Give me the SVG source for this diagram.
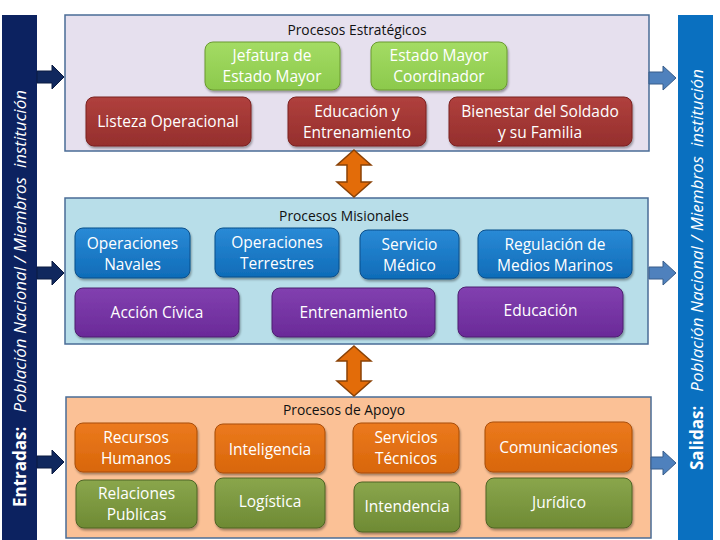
<svg xmlns="http://www.w3.org/2000/svg" width="720" height="540" viewBox="0 0 720 540">
<defs>
<style>
.t{font-family:"Open Sans","Liberation Sans",sans-serif;font-size:15.5px;fill:#ffffff;text-anchor:middle}
.h{font-family:"Open Sans","Liberation Sans",sans-serif;font-size:13.8px;fill:#111111;text-anchor:middle}
.side{font-family:"Open Sans","Liberation Sans",sans-serif;font-size:17px;fill:#ffffff}
.panel{stroke:#4a6c96;stroke-width:1.5}
.n{stroke-width:1;filter:url(#sh)}
.red{fill:url(#gRed);stroke:#7a2220}
.lg{fill:url(#gLg);stroke:#6a9a30}
.blue{fill:url(#gBlue);stroke:#0b4f8a}
.pur{fill:url(#gPur);stroke:#4c1f70}
.org{fill:url(#gOrg);stroke:#a84d08}
.grn{fill:url(#gGrn);stroke:#4e6424}
.inA{fill:#10285e;stroke:#0a1a40;stroke-width:1}
.outA{fill:#4f81bd;stroke:#385d8a;stroke-width:1}
.dA{fill:#e36c09;stroke:#8a4206;stroke-width:1.5}
</style>
<filter id="sh" x="-10%" y="-10%" width="125%" height="135%">
<feDropShadow dx="1" dy="2" stdDeviation="1.2" flood-color="#000" flood-opacity="0.35"/>
</filter>
<linearGradient id="gRed" x1="0" y1="0" x2="0" y2="1"><stop offset="0" stop-color="#b0403d"/><stop offset="1" stop-color="#952f2d"/></linearGradient>
<linearGradient id="gLg" x1="0" y1="0" x2="0" y2="1"><stop offset="0" stop-color="#a4dc64"/><stop offset="1" stop-color="#8cc94c"/></linearGradient>
<linearGradient id="gBlue" x1="0" y1="0" x2="0" y2="1"><stop offset="0" stop-color="#2a8ad6"/><stop offset="1" stop-color="#0f6cb8"/></linearGradient>
<linearGradient id="gPur" x1="0" y1="0" x2="0" y2="1"><stop offset="0" stop-color="#8240b0"/><stop offset="1" stop-color="#6a2a98"/></linearGradient>
<linearGradient id="gOrg" x1="0" y1="0" x2="0" y2="1"><stop offset="0" stop-color="#ec7a1e"/><stop offset="1" stop-color="#d8660a"/></linearGradient>
<linearGradient id="gGrn" x1="0" y1="0" x2="0" y2="1"><stop offset="0" stop-color="#8aa64c"/><stop offset="1" stop-color="#6e8a34"/></linearGradient>
</defs>
<rect width="720" height="540" fill="#ffffff"/>

<g id="entradas">
<rect x="2" y="15" width="35" height="530" fill="#0c2260"/>
<text class="side" transform="translate(26,507) rotate(-90)"><tspan font-weight="bold">Entradas:</tspan><tspan dx="14" font-style="italic">Población Nacional / Miembros</tspan><tspan dx="9" font-style="italic">institución</tspan></text>
</g>
<g id="salidas">
<rect x="678" y="15" width="35" height="530" fill="#0a70c0"/>
<text class="side" transform="translate(703,470) rotate(-90)"><tspan font-weight="bold">Salidas:</tspan><tspan dx="14" font-style="italic">Población Nacional / Miembros</tspan><tspan dx="9" font-style="italic">institución</tspan></text>
</g>

<g id="estrategicos">
<rect class="panel" x="65" y="15" width="584" height="136" fill="#e6e0ee"/>
<text class="h" x="357" y="35">Procesos Estratégicos</text>
</g>
<g id="misionales">
<rect class="panel" x="65" y="198" width="583" height="146" fill="#b8dee9"/>
<text class="h" x="344" y="221">Procesos Misionales</text>
</g>
<g id="apoyo">
<rect class="panel" x="66" y="397" width="585" height="141" fill="#fbc196"/>
<text class="h" x="344" y="415">Procesos de Apoyo</text>
</g>

<g id="n-jefatura"><rect class="n lg" x="205" y="42" width="135" height="48" rx="8"/><text class="t" x="272" y="61">Jefatura de</text><text class="t" x="272" y="82">Estado Mayor</text></g>
<g id="n-estado"><rect class="n lg" x="371" y="42" width="136" height="48" rx="8"/><text class="t" x="439" y="61">Estado Mayor</text><text class="t" x="439" y="82">Coordinador</text></g>
<g id="n-listeza"><rect class="n red" x="86" y="97" width="165" height="49" rx="8"/><text class="t" x="168" y="127">Listeza Operacional</text></g>
<g id="n-educent"><rect class="n red" x="288" y="97" width="138" height="49" rx="8"/><text class="t" x="357" y="117">Educación y</text><text class="t" x="357" y="138">Entrenamiento</text></g>
<g id="n-bienestar"><rect class="n red" x="449" y="97" width="183" height="49" rx="8"/><text class="t" x="540" y="117">Bienestar del Soldado</text><text class="t" x="540" y="138">y su Familia</text></g>

<g id="n-opnav"><rect class="n blue" x="75" y="228" width="115" height="50" rx="8"/><text class="t" x="132.5" y="249">Operaciones</text><text class="t" x="132.5" y="270">Navales</text></g>
<g id="n-opter"><rect class="n blue" x="215" y="228" width="124" height="49" rx="8"/><text class="t" x="277" y="248">Operaciones</text><text class="t" x="277" y="269">Terrestres</text></g>
<g id="n-servmed"><rect class="n blue" x="360" y="230" width="99" height="49" rx="8"/><text class="t" x="409.5" y="250">Servicio</text><text class="t" x="409.5" y="271">Médico</text></g>
<g id="n-regul"><rect class="n blue" x="478" y="230" width="154" height="48" rx="8"/><text class="t" x="555" y="250">Regulación de</text><text class="t" x="555" y="271">Medios Marinos</text></g>
<g id="n-accion"><rect class="n pur" x="75" y="288" width="164" height="49" rx="8"/><text class="t" x="157" y="318">Acción Cívica</text></g>
<g id="n-entren"><rect class="n pur" x="272" y="288" width="163" height="49" rx="8"/><text class="t" x="353.5" y="318">Entrenamiento</text></g>
<g id="n-educ"><rect class="n pur" x="458" y="287" width="165" height="50" rx="8"/><text class="t" x="540.5" y="316">Educación</text></g>

<g id="n-rrhh"><rect class="n org" x="75" y="423" width="122" height="49" rx="8"/><text class="t" x="136" y="443">Recursos</text><text class="t" x="136" y="464">Humanos</text></g>
<g id="n-intel"><rect class="n org" x="215" y="424" width="110" height="49" rx="8"/><text class="t" x="270" y="455">Inteligencia</text></g>
<g id="n-servtec"><rect class="n org" x="353" y="423" width="106" height="50" rx="8"/><text class="t" x="406" y="443">Servicios</text><text class="t" x="406" y="464">Técnicos</text></g>
<g id="n-comun"><rect class="n org" x="485" y="422" width="147" height="50" rx="8"/><text class="t" x="558.5" y="453">Comunicaciones</text></g>
<g id="n-relpub"><rect class="n grn" x="76" y="480" width="121" height="48" rx="8"/><text class="t" x="136.5" y="499">Relaciones</text><text class="t" x="136.5" y="520">Publicas</text></g>
<g id="n-logis"><rect class="n grn" x="215" y="478" width="110" height="50" rx="8"/><text class="t" x="270" y="507">Logística</text></g>
<g id="n-intend"><rect class="n grn" x="354" y="482" width="106" height="50" rx="8"/><text class="t" x="407" y="512">Intendencia</text></g>
<g id="n-jurid"><rect class="n grn" x="486" y="478" width="146" height="50" rx="8"/><text class="t" x="559" y="508">Jurídico</text></g>

<g id="connectors">
<path class="inA" d="M37,71 H52 V65 L64,77 L52,89 V83 H37 Z"/>
<path class="inA" d="M37,267 H52 V261 L64,273 L52,285 V279 H37 Z"/>
<path class="inA" d="M37,456 H52 V450 L64,462 L52,474 V468 H37 Z"/>
<path class="outA" d="M649,72 H663 V66 L676,78 L663,90 V84 H649 Z"/>
<path class="outA" d="M649,267 H663 V261 L676,273 L663,285 V279 H649 Z"/>
<path class="outA" d="M651,457 H663 V451 L676,463 L663,475 V469 H651 Z"/>
<path class="dA" d="M354,150 L371,165 H361 V182 H371 L354,197 L337,182 H347 V165 H337 Z"/>
<path class="dA" d="M354,346 L371,361 H361 V381 H371 L354,396 L337,381 H347 V361 H337 Z"/>
</g>
</svg>
